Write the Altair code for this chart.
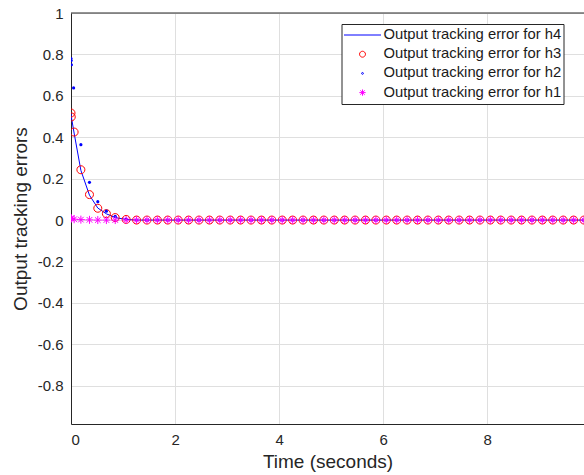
import altair as alt
import pandas as pd

# Series labels (also used as legend entries)
LABEL_H4 = "Output tracking error for h4"
LABEL_H3 = "Output tracking error for h3"
LABEL_H2 = "Output tracking error for h2"
LABEL_H1 = "Output tracking error for h1"

# Solver time stamps shared by h4, h3 and h1
t_main = [0.0, 0.005, 0.06, 0.19, 0.355, 0.515, 0.68, 0.85,
          1.06, 1.26, 1.46, 1.66, 1.86, 2.06, 2.26, 2.46, 2.66, 2.86,
          3.06, 3.26, 3.46, 3.66, 3.86, 4.06, 4.26, 4.46, 4.66, 4.86,
          5.06, 5.26, 5.46, 5.66, 5.86, 6.06, 6.26, 6.46, 6.66, 6.86,
          7.06, 7.26, 7.46, 7.66, 7.86, 8.06, 8.26, 8.46, 8.66, 8.86,
          9.06, 9.26, 9.46, 9.66, 9.86]

err_h4 = [0.515, 0.50, 0.42, 0.24, 0.12, 0.058, 0.03, 0.012,
          0.003, 0.0, 0.0, 0.0, 0.0, 0.0, 0.0, 0.0, 0.0, 0.0,
          0.0, 0.0, 0.0, 0.0, 0.0, 0.0, 0.0, 0.0, 0.0, 0.0,
          0.0, 0.0, 0.0, 0.0, 0.0, 0.0, 0.0, 0.0, 0.0, 0.0,
          0.0, 0.0, 0.0, 0.0, 0.0, 0.0, 0.0, 0.0, 0.0, 0.0,
          0.0, 0.0, 0.0, 0.0, 0.0]

err_h3 = [0.517, 0.498, 0.425, 0.243, 0.123, 0.057, 0.031, 0.012,
          0.003, 0.0, 0.0, 0.0, 0.0, 0.0, 0.0, 0.0, 0.0, 0.0,
          0.0, 0.0, 0.0, 0.0, 0.0, 0.0, 0.0, 0.0, 0.0, 0.0,
          0.0, 0.0, 0.0, 0.0, 0.0, 0.0, 0.0, 0.0, 0.0, 0.0,
          0.0, 0.0, 0.0, 0.0, 0.0, 0.0, 0.0, 0.0, 0.0, 0.0,
          0.0, 0.0, 0.0, 0.0, 0.0]

err_h1 = [0.008, 0.008, 0.004, 0.002, 0.001, 0.0, 0.0, 0.0,
          0.0, 0.0, 0.0, 0.0, 0.0, 0.0, 0.0, 0.0, 0.0, 0.0,
          0.0, 0.0, 0.0, 0.0, 0.0, 0.0, 0.0, 0.0, 0.0, 0.0,
          0.0, 0.0, 0.0, 0.0, 0.0, 0.0, 0.0, 0.0, 0.0, 0.0,
          0.0, 0.0, 0.0, 0.0, 0.0, 0.0, 0.0, 0.0, 0.0, 0.0,
          0.0, 0.0, 0.0, 0.0, 0.0]

# h2 has a few extra samples right at the start
t_h2 = [0.0, 0.003, 0.008, 0.05, 0.19, 0.355, 0.515, 0.68, 0.85,
        1.06, 1.26, 1.46, 1.66, 1.86, 2.06, 2.26, 2.46, 2.66, 2.86,
        3.06, 3.26, 3.46, 3.66, 3.86, 4.06, 4.26, 4.46, 4.66, 4.86,
        5.06, 5.26, 5.46, 5.66, 5.86, 6.06, 6.26, 6.46, 6.66, 6.86,
        7.06, 7.26, 7.46, 7.66, 7.86, 8.06, 8.26, 8.46, 8.66, 8.86,
        9.06, 9.26, 9.46, 9.66, 9.86]

err_h2 = [0.78, 0.77, 0.75, 0.638, 0.364, 0.182, 0.089, 0.043, 0.018,
          0.005, 0.0, 0.0, 0.0, 0.0, 0.0, 0.0, 0.0, 0.0, 0.0,
          0.0, 0.0, 0.0, 0.0, 0.0, 0.0, 0.0, 0.0, 0.0, 0.0,
          0.0, 0.0, 0.0, 0.0, 0.0, 0.0, 0.0, 0.0, 0.0, 0.0,
          0.0, 0.0, 0.0, 0.0, 0.0, 0.0, 0.0, 0.0, 0.0, 0.0,
          0.0, 0.0, 0.0, 0.0, 0.0]

x_ticks = [0, 2, 4, 6, 8]
y_ticks = [1, 0.8, 0.6, 0.4, 0.2, 0, -0.2, -0.4, -0.6, -0.8]
x_domain = [0, 9.86]
y_domain = [-0.985, 1]

FONT = "Liberation Sans"
AXIS_GREY = "#262626"
GRID_GREY = "#dfdfdf"

# Legend glyphs as symbol paths in a shared unit box (one common symbol size):
# a full-width line, a small ring, a tiny dot and a MATLAB-style asterisk.
GLYPH_LINE = "M-1,0L1,0"
GLYPH_RING = "M0.16,0A0.16,0.16 0 1,1 -0.16,0A0.16,0.16 0 1,1 0.16,0Z"
GLYPH_DOT = "M0.05,0A0.05,0.05 0 1,1 -0.05,0A0.05,0.05 0 1,1 0.05,0Z"
GLYPH_STAR = ("M-0.17,0L0.17,0M0,-0.17L0,0.17"
              "M-0.12,-0.12L0.12,0.12M-0.12,0.12L0.12,-0.12")
# Asterisk used for the h1 samples on the plot itself
ASTERISK = "M-1,0L1,0M0,-1L0,1M-0.7,-0.7L0.7,0.7M-0.7,0.7L0.7,-0.7"

series_domain = [LABEL_H4, LABEL_H3, LABEL_H2, LABEL_H1]
series_colors = ["#0000ff", "#ff0000", "#0000ff", "#ff00ff"]
series_glyphs = [GLYPH_LINE, GLYPH_RING, GLYPH_DOT, GLYPH_STAR]

df_h4 = pd.DataFrame({"t": t_main, "err": err_h4, "series": LABEL_H4})
df_h3 = pd.DataFrame({"t": t_main, "err": err_h3, "series": LABEL_H3})
df_h2 = pd.DataFrame({"t": t_h2, "err": err_h2, "series": LABEL_H2})
df_h1 = pd.DataFrame({"t": t_main, "err": err_h1, "series": LABEL_H1})
df_frame = pd.DataFrame({"edge": [y_domain[1]]})

x_enc = alt.X(
    "t:Q",
    scale=alt.Scale(domain=x_domain, nice=False, zero=False),
    axis=alt.Axis(
        values=x_ticks, title="Time (seconds)", grid=True, ticks=False,
        labelPadding=8, titlePadding=5, labelExpr="'' + datum.value",
    ),
)
y_enc = alt.Y(
    "err:Q",
    scale=alt.Scale(domain=y_domain, nice=False, zero=False),
    axis=alt.Axis(
        values=y_ticks, title="Output tracking errors", grid=True, ticks=False,
        labelPadding=8, titlePadding=7, labelExpr="'' + datum.value",
    ),
)

legend = alt.Legend(
    title=None,
    orient="none",
    legendX=270.5,
    legendY=11,
    direction="vertical",
    columns=1,
    fillColor="white",
    strokeColor=AXIS_GREY,
    padding=2,
    rowPadding=1.2,
    clipHeight=18,
    labelFont=FONT,
    labelFontSize=14.8,
    labelColor="#1a1a1a",
    labelOffset=2,
    labelLimit=0,
    symbolSize=1369,
    symbolStrokeWidth=1,
    symbolOpacity=1,
)

color_enc = alt.Color(
    "series:N", scale=alt.Scale(domain=series_domain, range=series_colors), legend=legend
)
shape_enc = alt.Shape(
    "series:N", scale=alt.Scale(domain=series_domain, range=series_glyphs), legend=legend
)

frame_top = alt.Chart(df_frame).mark_rule(color=AXIS_GREY, strokeWidth=1).encode(
    y=alt.Y("edge:Q", scale=alt.Scale(domain=y_domain, nice=False, zero=False))
)

line_h4 = alt.Chart(df_h4).mark_line(color="#0000ff", strokeWidth=1, clip=True).encode(
    x=x_enc, y=y_enc
)

# h3 circles carry the shared series legend; ring glyph radius 0.16 -> ~4 px at this size
circles_h3 = alt.Chart(df_h3).mark_point(
    filled=False, size=2500, strokeWidth=1, opacity=1, clip=True
).encode(x=x_enc, y=y_enc, color=color_enc, shape=shape_enc)

dots_h2 = alt.Chart(df_h2).mark_point(
    filled=True, shape="circle", size=10, color="#0000ff", opacity=1, clip=True
).encode(x=x_enc, y=y_enc)

stars_h1 = alt.Chart(df_h1).mark_point(
    filled=False, shape=ASTERISK, size=64, strokeWidth=1, color="#ff00ff", opacity=1, clip=True
).encode(x=x_enc, y=y_enc)

chart = (
    alt.layer(line_h4, circles_h3, dots_h2, stars_h1, frame_top)
    .properties(
        width=513,
        height=411,
        autosize=alt.AutoSizeParams(type="none"),
        padding={"left": 71, "top": 13, "right": 0, "bottom": 51},
        background="white",
    )
    .configure_view(stroke=None)
    .configure_axis(
        domainColor=AXIS_GREY,
        domainWidth=1,
        gridColor=GRID_GREY,
        gridWidth=1,
        labelFont=FONT,
        labelFontSize=15,
        labelColor=AXIS_GREY,
        titleFont=FONT,
        titleFontSize=19,
        titleFontWeight="normal",
        titleColor=AXIS_GREY,
    )
)

chart.save("out.html", embed_options={"renderer": "svg", "actions": False})
